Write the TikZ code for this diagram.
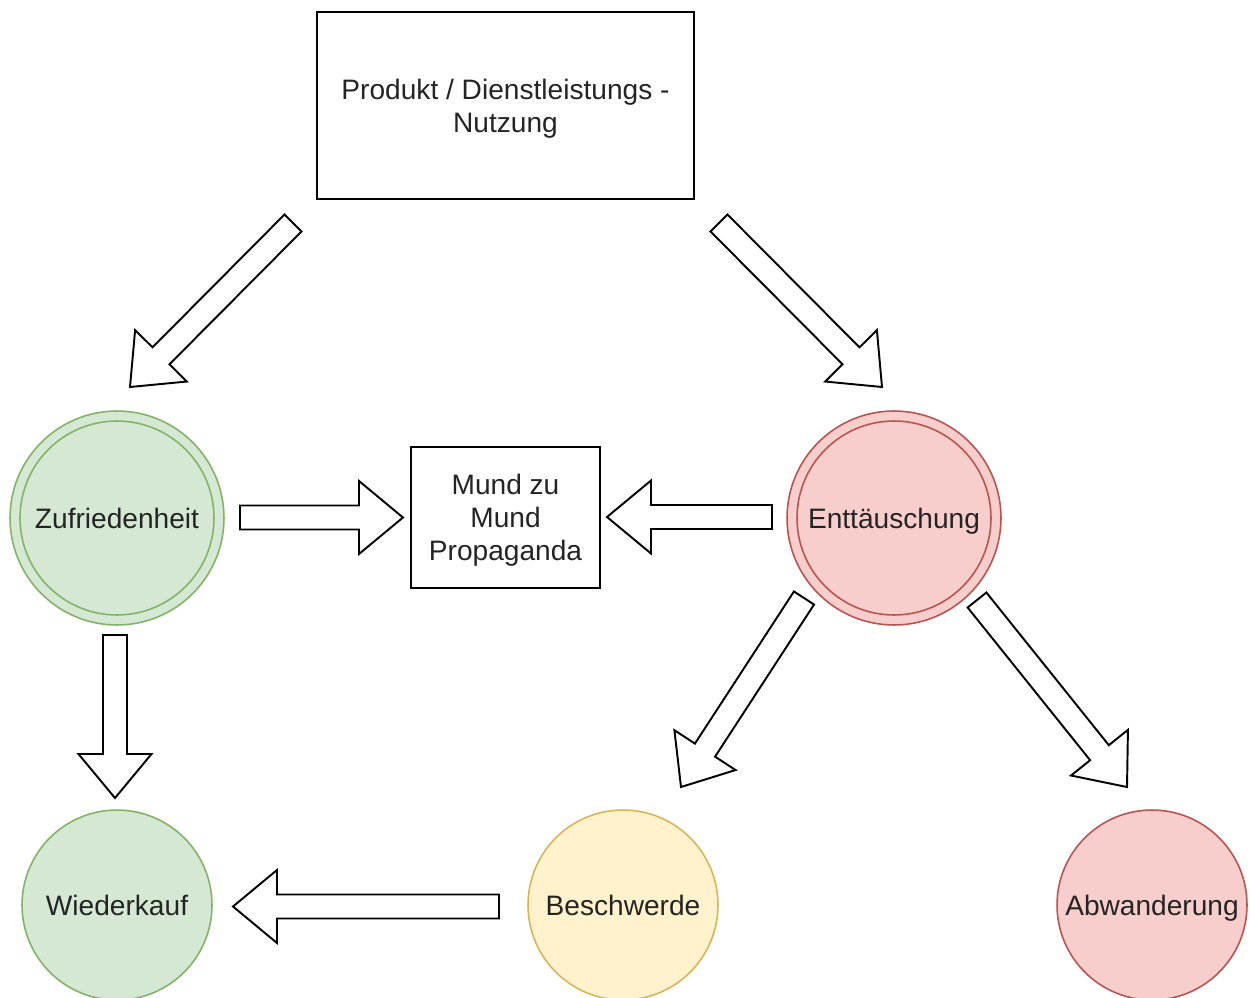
\documentclass[tikz,border=0pt]{standalone}
\usepackage{fontspec}
\setmainfont{Liberation Sans}
\usetikzlibrary{calc}
\definecolor{txtc}{RGB}{36,36,36}
\definecolor{gfill}{HTML}{D5E8D4}
\definecolor{gline}{HTML}{82B366}
\definecolor{rfill}{HTML}{F8CECC}
\definecolor{rline}{HTML}{B85450}
\definecolor{yfill}{HTML}{FFF2CC}
\definecolor{yline}{HTML}{D6B656}
\tikzset{
  txt/.style={font=\fontsize{16}{18.7}\selectfont, text=txtc, align=center, text depth=0pt},
  box/.style={txt, rectangle, draw=black, line width=1.1pt, fill=white, inner sep=0pt},
  circ/.style={txt, circle, line width=0.9pt, inner sep=0pt},
  gcirc/.style={circ, draw=gline, fill=gfill},
  rcirc/.style={circ, draw=rline, fill=rfill},
  ycirc/.style={circ, draw=yline, fill=yfill},
  bigc/.style={minimum size=4.28cm},
  smallc/.style={minimum size=3.8cm},
  blockarrow/.style={draw=black, fill=white, line width=1.1pt, line join=miter,
    to path={
      ($(\tikztotarget)!0.88cm!(\tikztostart)$) coordinate (bac)
      ($(\tikztostart)!0.24cm!90:(\tikztotarget)$)
      -- ($(bac)!0.24cm!90:(\tikztotarget)$)
      -- ($(bac)!0.73cm!90:(\tikztotarget)$)
      -- (\tikztotarget)
      -- ($(bac)!0.73cm!-90:(\tikztotarget)$)
      -- ($(bac)!0.24cm!-90:(\tikztotarget)$)
      -- ($(\tikztostart)!0.24cm!-90:(\tikztotarget)$)
      -- cycle
    }},
}
\begin{document}
\begin{tikzpicture}[x=0.02cm,y=-0.02cm]
\useasboundingbox (0,0) rectangle (1250,997);
\clip (0,0) rectangle (1250,997);
\fill[white] (0,0) rectangle (1250,997);

% nodes
\node[box, minimum width=7.54cm, minimum height=3.74cm] (top) at (505.5,105.5) {Produkt / Dienstleistungs -\\Nutzung};
\node[box, minimum width=3.78cm, minimum height=2.82cm] (mund) at (505.5,517.5) {Mund zu\\Mund\\Propaganda};

\node[gcirc, bigc] (zuf) at (117,518) {Zufriedenheit};
\draw[gline, line width=0.9pt] (zuf.center) circle[radius=1.94cm];
\node[rcirc, bigc] (ent) at (894,518) {Enttäuschung};
\draw[rline, line width=0.9pt] (ent.center) circle[radius=1.94cm];

\node[gcirc, smallc] (wie) at (117,905) {Wiederkauf};
\node[ycirc, smallc] (bes) at (623,905) {Beschwerde};
\node[rcirc, smallc] (abw) at (1152,905) {Abwanderung};

% arrow end points
\coordinate (a1s) at (293,223);  \coordinate (a1e) at (130,387);
\coordinate (a2s) at (719,223);  \coordinate (a2e) at (882,387);
\coordinate (a3s) at (240,517.5);  \coordinate (a3e) at (403,517.5);
\coordinate (a4s) at (772,517);  \coordinate (a4e) at (607,517);
\coordinate (a5s) at (115,635);  \coordinate (a5e) at (115,798);
\coordinate (a6s) at (499,906.5);  \coordinate (a6e) at (233,906.5);
\coordinate (a7s) at (804,598);  \coordinate (a7e) at (681,787);
\coordinate (a8s) at (977,600);  \coordinate (a8e) at (1127,787);

% block arrows
\draw[blockarrow] (a1s) to (a1e);
\draw[blockarrow] (a2s) to (a2e);
\draw[blockarrow] (a3s) to (a3e);
\draw[blockarrow] (a4s) to (a4e);
\draw[blockarrow] (a5s) to (a5e);
\draw[blockarrow] (a6s) to (a6e);
\draw[blockarrow] (a7s) to (a7e);
\draw[blockarrow] (a8s) to (a8e);
\end{tikzpicture}
\end{document}
